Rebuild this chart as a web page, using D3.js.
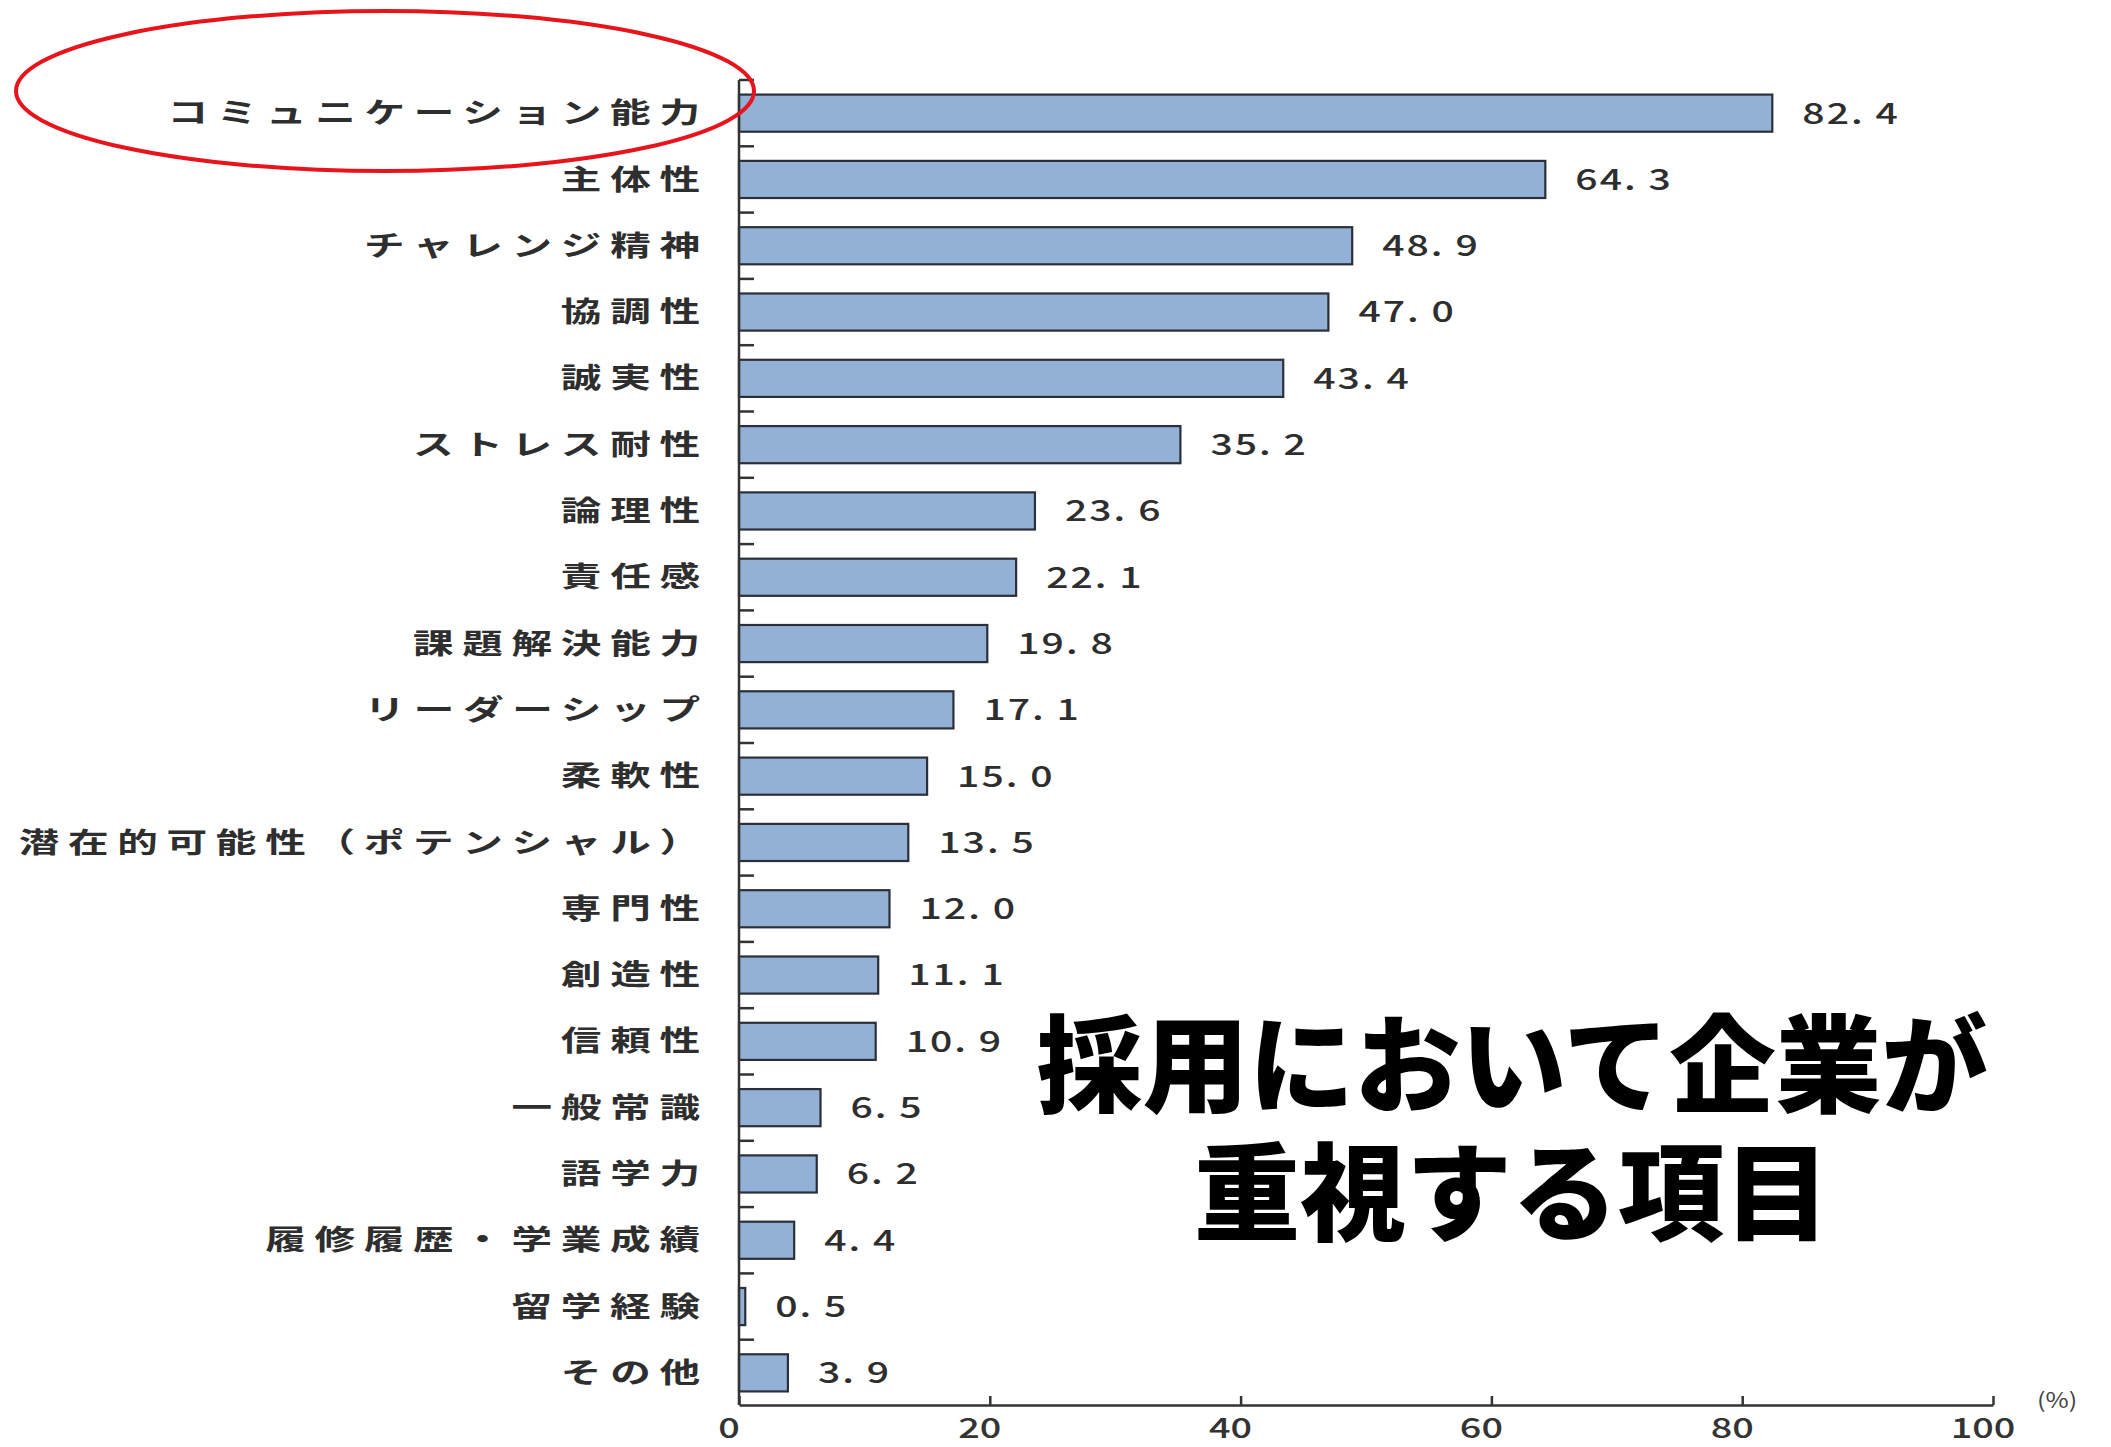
<!DOCTYPE html>
<html><head><meta charset="utf-8">
<script src="https://cdn.jsdelivr.net/npm/d3@7"></script>
<style>
html,body{margin:0;padding:0;background:#fff;}
svg{display:block;}
</style></head>
<body>
<svg id="chart" width="2111" height="1447"></svg>
<script>
const categories = ["コミュニケーション能力","主体性","チャレンジ精神","協調性","誠実性","ストレス耐性","論理性","責任感","課題解決能力","リーダーシップ","柔軟性","潜在的可能性（ポテンシャル）","専門性","創造性","信頼性","一般常識","語学力","履修履歴・学業成績","留学経験","その他"];
const values = [82.4,64.3,48.9,47.0,43.4,35.2,23.6,22.1,19.8,17.1,15.0,13.5,12.0,11.1,10.9,6.5,6.2,4.4,0.5,3.9];
const xTicks = [0,20,40,60,80,100];
const titleLines = ["採用において企業が","重視する項目"];
const unitLabel = "(%)";

const svg = d3.select("#chart");
const font = "'Noto Sans CJK JP','Noto Sans',sans-serif";
const x = d3.scaleLinear().domain([0,100]).range([739,1993]);
const y = d3.scaleBand().domain(categories).range([80,1406]).paddingInner(0.44).paddingOuter(0.22);

// bars
svg.append("g").selectAll("rect").data(categories).join("rect")
  .attr("x", x(0)).attr("y", d=>y(d))
  .attr("width", (d,i)=>x(values[i])-x(0)).attr("height", y.bandwidth())
  .attr("fill","#93b1d7").attr("stroke","#2b2f38").attr("stroke-width",2.2);

// y axis line and boundary ticks
const step = y.step();
const y0 = y.range()[0];
const g = svg.append("g").attr("stroke","#333").attr("stroke-width",2.5);
g.append("line").attr("x1",x(0)).attr("x2",x(0)).attr("y1",y0).attr("y2",1405);
g.selectAll("line.t").data(d3.range(categories.length)).join("line").attr("class","t")
  .attr("x1",x(0)).attr("x2",x(0)+15)
  .attr("y1",i=>y0+i*step).attr("y2",i=>y0+i*step);

// x axis
const xa = svg.append("g").attr("transform","translate(0,1405)")
  .call(d3.axisBottom(x).tickValues(xTicks).tickSize(-9).tickSizeOuter(0).tickFormat(""));
xa.select(".domain").attr("stroke","#333").attr("stroke-width",2.5);
xa.selectAll(".tick line").attr("stroke","#333").attr("stroke-width",2.5);
svg.append("g").selectAll("text").data(xTicks).join("text")
  .attr("transform",d=>`translate(${x(d)-10},1438) scale(1.35,1)`)
  .attr("text-anchor","middle").attr("font-family",font).attr("font-size",28).attr("font-weight",500)
  .attr("fill","#333").text(d=>d);
svg.append("text").attr("transform",`translate(${x(100)+44},1408) scale(1.2,1)`)
  .attr("font-family",font).attr("font-size",21).attr("fill","#444").text(unitLabel);

// category labels
const ls = 6;
svg.append("g").selectAll("text").data(categories).join("text")
  .attr("transform",d=>`translate(${700+ls*1.45},${y(d)+y.bandwidth()/2}) scale(1.45,1)`)
  .attr("dy","0.36em")
  .attr("text-anchor","end").attr("font-family",font).attr("font-size",28).attr("font-weight",700)
  .attr("letter-spacing",ls+"px").attr("fill","#2e2e2e").text(d=>d);

// value labels
const fmt = d3.format(".1f");
svg.append("g").selectAll("text").data(categories).join("text")
  .attr("transform",(d,i)=>`translate(${x(values[i])+30},${y(d)+y.bandwidth()/2}) scale(1.35,1)`)
  .attr("dy","0.36em")
  .attr("font-family",font).attr("font-size",29).attr("font-weight",500).attr("letter-spacing","1.5px")
  .attr("fill","#2e2e2e").text((d,i)=>fmt(values[i]).replace(".",". "));

// red ellipse
svg.append("ellipse").attr("cx",385).attr("cy",91).attr("rx",369).attr("ry",80)
  .attr("fill","none").attr("stroke","#e8141b").attr("stroke-width",4);

// title
svg.append("g").selectAll("text").data(titleLines).join("text")
  .attr("x",1512).attr("y",(d,i)=>1066+i*128).attr("dy","0.36em").attr("text-anchor","middle")
  .attr("font-family",font).attr("font-size",106).attr("font-weight",900).attr("fill","#000")
  .text(d=>d);
</script>
</body></html>
